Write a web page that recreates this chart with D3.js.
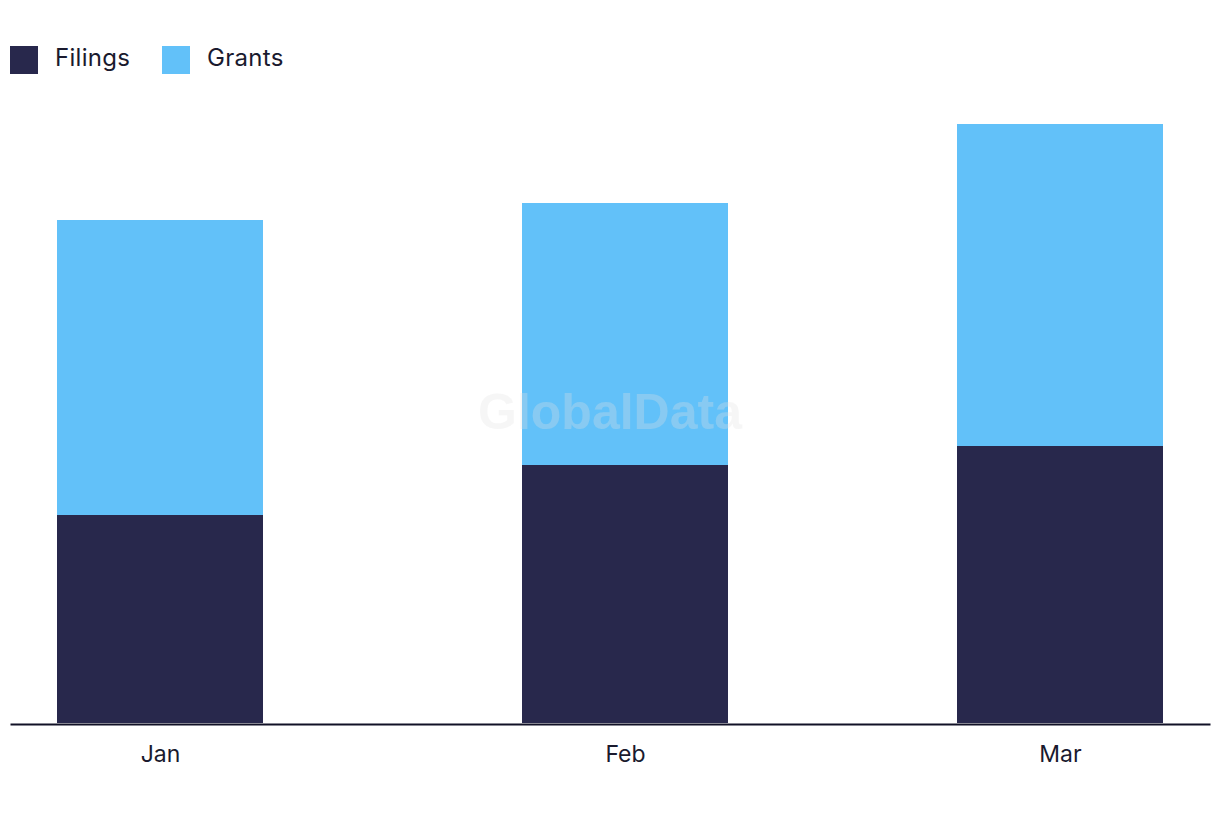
<!DOCTYPE html>
<html lang="en">
<head>
  <meta charset="utf-8">
  <title>Filings and Grants</title>
  <script src="https://d3js.org/d3.v7.min.js"></script>
  <style>
    body { margin: 0; background: #fff; }
    text { font-family: Inter, "Noto Sans", sans-serif; }
  </style>
</head>
<body>
<script>
  // monthly data (2024)
  var months = ["2024-01-01", "2024-02-01", "2024-03-01"];
  var monthLabels = ["Jan", "Feb", "Mar"];
  var filings = [41.6, 51.6, 55.4];
  var grants = [59.0, 52.4, 64.4];
  var seriesNames = ["Filings", "Grants"];
  var colors = ["#28284c", "#62c1f9"];

  var w = 1220, h = 822;
  var parse = d3.timeParse("%Y-%m-%d");

  var rows = months.map(function(m, i) {
    return { date: parse(m), label: monthLabels[i], Filings: filings[i], Grants: grants[i] };
  });

  var svg = d3.select("body").append("svg")
    .attr("width", w)
    .attr("height", h);

  // x is a real time scale, so the months sit at calendar positions
  var x = d3.scaleTime()
    .domain([d3.timeDay.offset(rows[0].date, -10), d3.timeDay.offset(rows[2].date, 10)])
    .range([10, 1210]);

  var y = d3.scaleLinear()
    .domain([0, 120])
    .range([723, 123]);

  var barW = 206;

  var stack = d3.stack().keys(seriesNames)(rows);

  svg.selectAll("g.layer")
    .data(stack)
    .enter()
    .append("g")
    .attr("class", "layer")
    .attr("fill", function(d, i) { return colors[i]; })
    .selectAll("rect")
    .data(function(d) { return d; })
    .enter()
    .append("rect")
    .attr("x", function(d) { return x(d.data.date) - barW / 2; })
    .attr("y", function(d) { return y(d[1]); })
    .attr("width", barW)
    .attr("height", function(d) { return y(d[0]) - y(d[1]); });

  // axis
  var xAxis = d3.axisBottom(x)
    .tickValues(rows.map(function(d) { return d.date; }))
    .tickFormat(function(d, i) { return monthLabels[i]; })
    .tickSize(0)
    .tickPadding(22);

  var ax = svg.append("g")
    .attr("transform", "translate(0," + 724 + ")")
    .call(xAxis);
  ax.select(".domain").attr("stroke", "#111126").attr("stroke-width", 2);
  ax.selectAll("text")
    .attr("fill", "#1a1a2e")
    .style("font-size", "23px")
    .style("font-family", "Inter, 'Noto Sans', sans-serif");

  // watermark
  svg.append("text")
    .attr("x", 610)
    .attr("y", 429)
    .attr("text-anchor", "middle")
    .style("font-family", "'Liberation Sans', Arial, sans-serif")
    .style("font-weight", "bold")
    .style("font-size", "50px")
    .attr("fill", "#e0e0e0")
    .attr("fill-opacity", 0.3)
    .text("GlobalData");

  // legend
  var legendX = [10, 162];
  var legend = svg.selectAll("g.legend")
    .data(seriesNames)
    .enter()
    .append("g")
    .attr("class", "legend")
    .attr("transform", function(d, i) { return "translate(" + legendX[i] + ",46)"; });

  legend.append("rect")
    .attr("width", 28)
    .attr("height", 28)
    .attr("fill", function(d, i) { return colors[i]; });

  legend.append("text")
    .attr("x", 45)
    .attr("y", 20)
    .attr("fill", "#1a1a2e")
    .style("font-size", "24px")
    .style("letter-spacing", "0.3px")
    .text(function(d) { return d; });
</script>
</body>
</html>
